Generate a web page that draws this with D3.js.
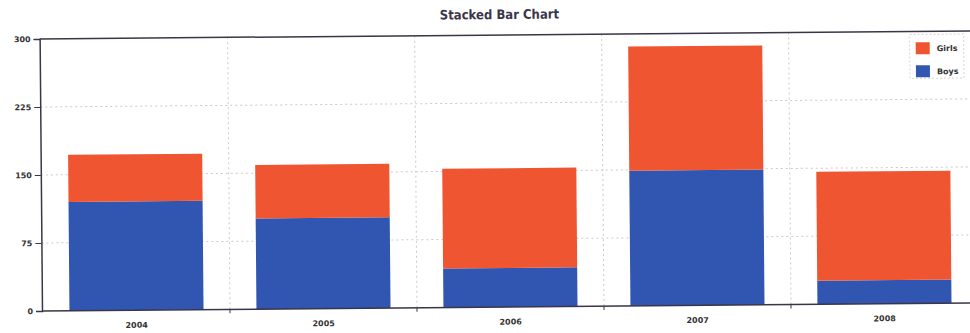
<!DOCTYPE html>
<html><head><meta charset="utf-8">
<script src="https://cdn.jsdelivr.net/npm/d3@7"></script>
<style>html,body{margin:0;padding:0;background:#fff;overflow:hidden}</style>
</head><body><svg id="c" width="970" height="333"></svg>
<script>
const categories = ["2004","2005","2006","2007","2008"];
const boys  = [120, 100, 43, 149, 26];
const girls = [52, 59, 110, 137, 120];
const seriesNames = ["Boys","Girls"];
const yTicks = [0, 75, 150, 225, 300];

const colors = {Boys:"#3056b2", Girls:"#ef5530"};
const plotL = 42, plotR = 980, plotT = 39, plotB = 311;

const svg = d3.select("#c");
const g = svg.append("g").attr("transform", "rotate(-0.5," + plotL + "," + plotB + ")");

const x = d3.scaleBand().domain(categories).range([43, 978]).padding(0);
const y = d3.scaleLinear().domain([0, 300]).range([plotB, plotT]);

const table = categories.map((c, i) => ({cat: c, Boys: boys[i], Girls: girls[i]}));
const stack = d3.stack().keys(seriesNames)(table);

// grid
g.append("g").selectAll("line").data(yTicks.filter(t => t > 0 && t < 300)).join("line")
  .attr("x1", plotL).attr("x2", plotR).attr("y1", d => y(d)).attr("y2", d => y(d))
  .attr("stroke", "#cfc6d0").attr("stroke-width", 1).attr("stroke-dasharray", "2,3");
g.append("g").selectAll("line").data(categories.slice(1)).join("line")
  .attr("x1", d => x(d)).attr("x2", d => x(d)).attr("y1", plotT).attr("y2", plotB)
  .attr("stroke", "#cfc6d0").attr("stroke-width", 1).attr("stroke-dasharray", "2,3");

// bars
const barW = x.bandwidth() * 0.717;
g.append("g").selectAll("g").data(stack).join("g")
  .attr("fill", d => colors[d.key])
  .selectAll("rect").data(d => d).join("rect")
  .attr("x", d => x(d.data.cat) + (x.bandwidth() - barW) / 2)
  .attr("width", barW)
  .attr("y", d => y(d[1]))
  .attr("height", d => y(d[0]) - y(d[1]));

// axes
const yAxis = d3.axisLeft(y).tickValues(yTicks).tickSize(6).tickPadding(3);
const ya = g.append("g").attr("transform", "translate(" + plotL + ",0)").call(yAxis);
ya.select(".domain").attr("stroke", "#3a3548").attr("stroke-width", 1.5);
ya.selectAll(".tick line").attr("stroke", "#3a3548");
ya.selectAll("text").attr("font-family", "DejaVu Sans").attr("font-size", 8).attr("font-weight", "bold").attr("fill", "#333");

const xAxis = d3.axisBottom(x).tickSize(0).tickPadding(12);
const xa = g.append("g").attr("transform", "translate(0," + plotB + ")").call(xAxis);
xa.select(".domain").attr("stroke", "#3a3548").attr("stroke-width", 1.5).attr("d", "M" + plotL + ",0H" + plotR);
xa.selectAll("text").attr("font-family", "DejaVu Sans").attr("font-size", 8).attr("font-weight", "bold").attr("fill", "#333");
g.append("g").selectAll("line").data(categories.slice(1)).join("line")
  .attr("x1", d => x(d)).attr("x2", d => x(d)).attr("y1", plotB).attr("y2", plotB + 4)
  .attr("stroke", "#3a3548");

// top border
g.append("line").attr("x1", plotL).attr("x2", plotR).attr("y1", plotT).attr("y2", plotT)
  .attr("stroke", "#3a3548").attr("stroke-width", 1.5);

// title
g.append("text").attr("x", 502).attr("y", 23).attr("text-anchor", "middle")
  .attr("font-family", "DejaVu Sans Condensed, DejaVu Sans").attr("font-stretch", "condensed")
  .attr("font-size", 13).attr("font-weight", "bold")
  .attr("fill", "#3a3548").text("Stacked Bar Chart");

// legend
const lg = g.append("g").attr("transform", "translate(912,42)");
lg.append("rect").attr("width", 54).attr("height", 44).attr("fill", "#fff")
  .attr("stroke", "#d8d0d8").attr("stroke-dasharray", "2,2");
const legendItems = ["Girls", "Boys"];
lg.selectAll("g").data(legendItems).join("g")
  .attr("transform", (d, i) => "translate(6," + (8 + i * 23) + ")")
  .each(function(d) {
    const s = d3.select(this);
    s.append("rect").attr("width", 14).attr("height", 12).attr("fill", colors[d]);
    s.append("text").attr("x", 21).attr("y", 9).attr("font-family", "DejaVu Sans")
      .attr("font-size", 8).attr("font-weight", "bold").attr("fill", "#333").text(d);
  });
</script></body></html>
